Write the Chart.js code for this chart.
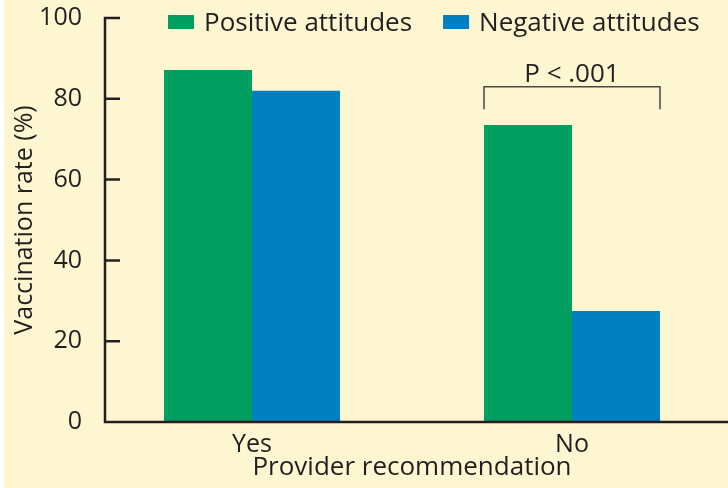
<!DOCTYPE html>
<html>
<head>
<meta charset="utf-8">
<script src="https://cdn.jsdelivr.net/npm/chart.js@4"></script>
<style>
  html, body { margin: 0; padding: 0; background: #fff; overflow: hidden; }
  #wrap { position: absolute; left: 0; top: 0; width: 740px; height: 488px; background: #fef6d0; }
  #edge { position: absolute; left: 0; top: 0; width: 4px; height: 488px; background: #fff; }
</style>
</head>
<body>
<div id="wrap"><canvas id="chart" width="740" height="488"></canvas></div>
<div id="edge"></div>
<script>
const categories = ["Yes", "No"];
const seriesNames = ["Positive attitudes", "Negative attitudes"];
const positive = [87.1, 73.5];
const negative = [82.0, 27.5];
const yTicks = [0, 20, 40, 60, 80, 100];
const pText = "P < .001";
const bracketTop = 83;
const bracketLeg = 77.4;

const ink = "#231f20";
const font = "'Open Sans', 'Noto Sans', sans-serif";

// axes drawn by hand: ticks point inward, y axis sits right of the area edge
const axisLines = {
  id: "axisLines",
  afterDatasetsDraw(chart) {
    const { ctx, chartArea, scales: { y } } = chart;
    const ax = chartArea.left + 13;
    ctx.save();
    ctx.strokeStyle = ink;
    ctx.lineWidth = 2.5;
    ctx.beginPath();
    ctx.moveTo(ax, y.getPixelForValue(100) - 1.25);
    ctx.lineTo(ax, chartArea.bottom);
    ctx.lineTo(chartArea.right + 10, chartArea.bottom);
    y.ticks.forEach(t => {
      const py = y.getPixelForValue(t.value);
      ctx.moveTo(ax, py);
      ctx.lineTo(ax + 15, py);
    });
    ctx.stroke();
    ctx.restore();
  }
};

// P value bracket over the "No" group
const bracket = {
  id: "bracket",
  afterDatasetsDraw(chart) {
    const { ctx, scales: { y } } = chart;
    const g = chart.getDatasetMeta(0).data[1];
    const b = chart.getDatasetMeta(1).data[1];
    const left = g.x - g.width / 2, right = b.x + b.width / 2;
    const top = y.getPixelForValue(bracketTop);
    const bottom = y.getPixelForValue(bracketLeg);
    ctx.save();
    ctx.strokeStyle = "#4a4646";
    ctx.lineWidth = 1.5;
    ctx.beginPath();
    ctx.moveTo(left, bottom);
    ctx.lineTo(left, top);
    ctx.lineTo(right, top);
    ctx.lineTo(right, bottom);
    ctx.stroke();
    ctx.fillStyle = ink;
    ctx.font = "26px " + font;
    ctx.textAlign = "center";
    ctx.textBaseline = "alphabetic";
    ctx.fillText(pText, (left + right) / 2, top - 4.5);
    ctx.restore();
  }
};

// legend laid over the top of the plot
const topLegend = {
  id: "topLegend",
  afterDraw(chart) {
    const { ctx } = chart;
    let x = 168;
    ctx.save();
    ctx.font = "26px " + font;
    ctx.textBaseline = "alphabetic";
    chart.data.datasets.forEach(ds => {
      ctx.fillStyle = ds.backgroundColor;
      ctx.fillRect(x, 15, 26, 14);
      ctx.fillStyle = ink;
      ctx.fillText(ds.label, x + 36, 30.5);
      x += 36 + ctx.measureText(ds.label).width + 31;
    });
    ctx.restore();
  }
};

new Chart(document.getElementById("chart"), {
  type: "bar",
  data: {
    labels: categories,
    datasets: [
      { label: seriesNames[0], data: positive, backgroundColor: "#009e60" },
      { label: seriesNames[1], data: negative, backgroundColor: "#0080c0" }
    ]
  },
  options: {
    responsive: false,
    animation: false,
    layout: { padding: { top: 18, right: 8, left: 0, bottom: 0 } },
    datasets: { bar: { categoryPercentage: 0.55, barPercentage: 1.0, borderWidth: 0 } },
    plugins: { legend: { display: false }, tooltip: { enabled: false } },
    scales: {
      x: {
        grid: { display: false, drawTicks: false },
        border: { display: false },
        ticks: { color: ink, font: { family: font, size: 25 }, padding: 8 },
        title: {
          display: true, text: "Provider recommendation", color: ink,
          font: { family: font, size: 26, lineHeight: 1.2 }, padding: { top: 0, bottom: 5 }
        },
        afterFit: s => { s.height = 66; }
      },
      y: {
        min: 0, max: 100,
        grid: { display: false, drawTicks: false },
        border: { display: false },
        afterBuildTicks: s => { s.ticks = yTicks.map(v => ({ value: v })); },
        ticks: { color: ink, font: { family: font, size: 25, lineHeight: 0.6 }, padding: 10 },
        title: {
          display: true, text: "Vaccination rate (%)", color: ink,
          font: { family: font, size: 25, lineHeight: 1.2 }, padding: { top: 10, bottom: 0 }
        },
        afterFit: s => { s.width = 92; }
      }
    }
  },
  plugins: [axisLines, bracket, topLegend]
});
</script>
</body>
</html>
